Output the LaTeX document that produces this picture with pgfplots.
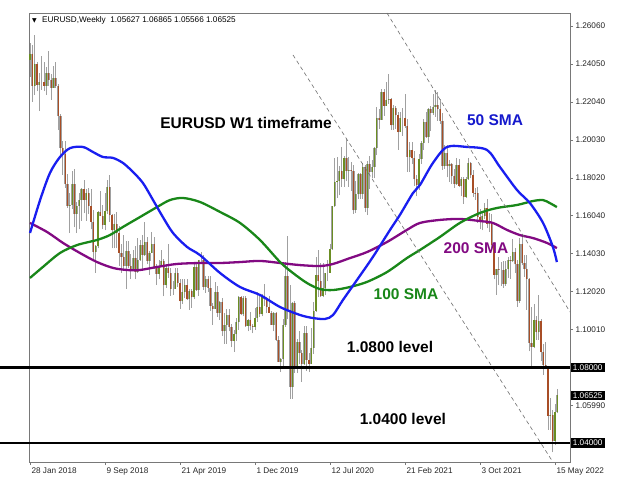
\documentclass[border=0pt]{standalone}
\usepackage{fontspec}
\setmainfont{Liberation Sans}
\newfontfamily\symfont{DejaVu Sans}
\usepackage{pgfplots}
\usepackage{pgfplotstable}
\pgfplotsset{compat=1.18}

\definecolor{bull}{RGB}{107,142,35}
\definecolor{bear}{RGB}{168,78,38}
\definecolor{wick}{RGB}{160,160,160}
\definecolor{smablue}{RGB}{25,30,240}
\definecolor{smagreen}{RGB}{25,135,25}
\definecolor{smapurple}{RGB}{130,10,130}
\definecolor{framegray}{RGB}{120,120,120}
\definecolor{dashgray}{RGB}{110,110,110}

\pgfplotstableread{
w O H L C
0 1.2425 1.2516 1.2335 1.2460
1 1.2460 1.2506 1.2206 1.2290
2 1.2290 1.2556 1.2240 1.2405
3 1.2405 1.2415 1.2260 1.2295
4 1.2295 1.2355 1.2155 1.2310
5 1.2310 1.2446 1.2270 1.2310
6 1.2310 1.2413 1.2260 1.2290
7 1.2290 1.2388 1.2240 1.2355
8 1.2355 1.2476 1.2290 1.2320
9 1.2320 1.2350 1.2215 1.2280
10 1.2280 1.2395 1.2280 1.2330
11 1.2330 1.2415 1.2280 1.2290
12 1.2290 1.2300 1.2055 1.2130
13 1.2130 1.2140 1.1910 1.1960
14 1.1960 1.1995 1.1820 1.1930
15 1.1930 1.1995 1.1750 1.1770
16 1.1770 1.1825 1.1645 1.1655
17 1.1655 1.1725 1.1510 1.1660
18 1.1660 1.1840 1.1640 1.1770
19 1.1770 1.1852 1.1540 1.1610
20 1.1610 1.1675 1.1510 1.1655
21 1.1655 1.1720 1.1530 1.1685
22 1.1685 1.1750 1.1575 1.1745
23 1.1745 1.1790 1.1615 1.1685
24 1.1685 1.1745 1.1575 1.1720
25 1.1720 1.1750 1.1610 1.1655
26 1.1655 1.1745 1.1530 1.1570
27 1.1570 1.1635 1.1365 1.1410
28 1.1410 1.1445 1.1300 1.1440
29 1.1440 1.1625 1.1430 1.1620
30 1.1620 1.1735 1.1600 1.1600
31 1.1600 1.1660 1.1530 1.1555
32 1.1555 1.1720 1.1525 1.1625
33 1.1625 1.1790 1.1610 1.1755
34 1.1755 1.1815 1.1570 1.1605
35 1.1605 1.1610 1.1430 1.1525
36 1.1525 1.1610 1.1430 1.1560
37 1.1560 1.1620 1.1430 1.1510
38 1.1510 1.1550 1.1335 1.1405
39 1.1405 1.1455 1.1300 1.1385
40 1.1385 1.1500 1.1315 1.1335
41 1.1335 1.1470 1.1215 1.1415
42 1.1415 1.1470 1.1325 1.1335
43 1.1335 1.1400 1.1265 1.1315
44 1.1315 1.1420 1.1310 1.1380
45 1.1380 1.1440 1.1265 1.1305
46 1.1305 1.1485 1.1300 1.1370
47 1.1370 1.1475 1.1365 1.1445
48 1.1445 1.1500 1.1310 1.1395
49 1.1395 1.1570 1.1390 1.1465
50 1.1465 1.1490 1.1345 1.1365
51 1.1365 1.1415 1.1290 1.1405
52 1.1405 1.1515 1.1405 1.1455
53 1.1455 1.1490 1.1320 1.1325
54 1.1325 1.1345 1.1235 1.1295
55 1.1295 1.1370 1.1265 1.1335
56 1.1335 1.1420 1.1335 1.1365
57 1.1365 1.1375 1.1175 1.1235
58 1.1235 1.1345 1.1220 1.1325
59 1.1325 1.1450 1.1275 1.1300
60 1.1300 1.1325 1.1180 1.1215
61 1.1215 1.1255 1.1185 1.1215
62 1.1215 1.1325 1.1215 1.1300
63 1.1300 1.1325 1.1225 1.1245
64 1.1245 1.1265 1.1110 1.1150
65 1.1150 1.1265 1.1135 1.1200
66 1.1200 1.1265 1.1165 1.1235
67 1.1235 1.1265 1.1155 1.1160
68 1.1160 1.1215 1.1105 1.1205
69 1.1205 1.1215 1.1115 1.1170
70 1.1170 1.1350 1.1160 1.1330
71 1.1330 1.1350 1.1205 1.1210
72 1.1210 1.1370 1.1180 1.1370
73 1.1370 1.1410 1.1355 1.1370
74 1.1370 1.1395 1.1210 1.1225
75 1.1225 1.1285 1.1195 1.1270
76 1.1270 1.1285 1.1200 1.1220
77 1.1220 1.1285 1.1100 1.1125
78 1.1125 1.1140 1.1025 1.1110
79 1.1110 1.1250 1.1110 1.1200
80 1.1200 1.1230 1.1065 1.1090
81 1.1090 1.1150 1.1050 1.1145
82 1.1145 1.1165 1.0965 1.0990
83 1.0990 1.1085 1.0925 1.1025
84 1.1025 1.1110 1.0925 1.1075
85 1.1075 1.1110 1.0990 1.1015
86 1.1015 1.1030 1.0905 1.0940
87 1.0940 1.1000 1.0880 1.0975
88 1.0975 1.1060 1.0940 1.1040
89 1.1040 1.1180 1.1000 1.1170
90 1.1170 1.1180 1.1075 1.1080
91 1.1080 1.1175 1.1070 1.1165
92 1.1165 1.1175 1.1015 1.1020
93 1.1020 1.1055 1.0990 1.1050
94 1.1050 1.1095 1.0995 1.1020
95 1.1020 1.1030 1.0980 1.1015
96 1.1015 1.1115 1.1000 1.1060
97 1.1060 1.1200 1.1040 1.1120
98 1.1120 1.1175 1.1065 1.1080
99 1.1080 1.1190 1.1070 1.1175
100 1.1175 1.1240 1.1125 1.1160
101 1.1160 1.1170 1.1085 1.1120
102 1.1120 1.1175 1.1090 1.1090
103 1.1090 1.1100 1.1025 1.1025
104 1.1025 1.1095 1.0990 1.1090
105 1.1090 1.1095 1.0940 1.0945
106 1.0945 1.0965 1.0827 1.0830
107 1.0830 1.0850 1.0775 1.0845
108 1.0845 1.1055 1.0800 1.1025
109 1.1025 1.1355 1.1015 1.1285
110 1.1285 1.1495 1.1055 1.1105
111 1.1105 1.1235 1.0635 1.0695
112 1.0695 1.1145 1.0635 1.1140
113 1.1140 1.1150 1.0770 1.0805
114 1.0805 1.0950 1.0770 1.0935
115 1.0935 1.0990 1.0815 1.0875
116 1.0875 1.0890 1.0725 1.0820
117 1.0820 1.1020 1.0810 1.0980
118 1.0980 1.1020 1.0780 1.0840
119 1.0840 1.0875 1.0775 1.0820
120 1.0820 1.1010 1.0815 1.0900
121 1.0900 1.1145 1.0870 1.1100
122 1.1100 1.1385 1.1095 1.1290
123 1.1290 1.1420 1.1170 1.1255
124 1.1255 1.1350 1.1170 1.1180
125 1.1180 1.1350 1.1170 1.1220
126 1.1220 1.1300 1.1185 1.1300
127 1.1300 1.1370 1.1255 1.1300
128 1.1300 1.1450 1.1300 1.1425
129 1.1425 1.1655 1.1420 1.1655
130 1.1655 1.1910 1.1650 1.1780
131 1.1780 1.1915 1.1695 1.1785
132 1.1785 1.1865 1.1710 1.1840
133 1.1840 1.1965 1.1755 1.1795
134 1.1795 1.1920 1.1755 1.1905
135 1.1905 1.2010 1.1785 1.1840
136 1.1840 1.1915 1.1755 1.1845
137 1.1845 1.1885 1.1735 1.1840
138 1.1840 1.1870 1.1610 1.1630
139 1.1630 1.1785 1.1615 1.1715
140 1.1715 1.1830 1.1690 1.1825
141 1.1825 1.1830 1.1690 1.1715
142 1.1715 1.1880 1.1690 1.1860
143 1.1860 1.1870 1.1620 1.1645
144 1.1645 1.1890 1.1605 1.1875
145 1.1875 1.1920 1.1745 1.1835
146 1.1835 1.1895 1.1800 1.1860
147 1.1860 1.1965 1.1800 1.1960
148 1.1960 1.2175 1.1925 1.2120
149 1.2120 1.2165 1.2060 1.2110
150 1.2110 1.2275 1.2110 1.2255
151 1.2255 1.2275 1.2130 1.2185
152 1.2185 1.2310 1.2185 1.2215
153 1.2215 1.2350 1.2195 1.2220
154 1.2220 1.2225 1.2055 1.2080
155 1.2080 1.2190 1.2055 1.2170
156 1.2170 1.2185 1.2060 1.2135
157 1.2135 1.2150 1.1950 1.2045
158 1.2045 1.2150 1.2045 1.2120
159 1.2120 1.2170 1.2025 1.2120
160 1.2120 1.2245 1.2065 1.2075
161 1.2075 1.2115 1.1835 1.1915
162 1.1915 1.1990 1.1835 1.1950
163 1.1950 1.1990 1.1875 1.1905
164 1.1905 1.1945 1.1760 1.1795
165 1.1795 1.1815 1.1705 1.1765
166 1.1765 1.1930 1.1740 1.1900
167 1.1900 1.1995 1.1875 1.1985
168 1.1985 1.2115 1.1950 1.2100
169 1.2100 1.2150 1.2015 1.2020
170 1.2020 1.2170 1.1985 1.2165
171 1.2165 1.2185 1.2050 1.2145
172 1.2145 1.2245 1.2135 1.2180
173 1.2180 1.2265 1.2125 1.2190
174 1.2190 1.2255 1.2105 1.2165
175 1.2165 1.2220 1.2090 1.2105
176 1.2105 1.2145 1.1845 1.1865
177 1.1865 1.1975 1.1850 1.1935
178 1.1935 1.1975 1.1805 1.1865
179 1.1865 1.1895 1.1780 1.1875
180 1.1875 1.1880 1.1770 1.1810
181 1.1810 1.1850 1.1750 1.1770
182 1.1770 1.1910 1.1765 1.1870
183 1.1870 1.1900 1.1755 1.1760
184 1.1760 1.1805 1.1705 1.1795
185 1.1795 1.1805 1.1665 1.1700
186 1.1700 1.1805 1.1695 1.1795
187 1.1795 1.1910 1.1790 1.1880
188 1.1880 1.1885 1.1800 1.1815
189 1.1815 1.1845 1.1700 1.1725
190 1.1725 1.1750 1.1685 1.1720
191 1.1720 1.1755 1.1565 1.1595
192 1.1595 1.1640 1.1530 1.1570
193 1.1570 1.1625 1.1525 1.1600
194 1.1600 1.1670 1.1585 1.1645
195 1.1645 1.1690 1.1535 1.1560
196 1.1560 1.1615 1.1515 1.1565
197 1.1565 1.1610 1.1430 1.1445
198 1.1445 1.1465 1.1265 1.1290
199 1.1290 1.1320 1.1185 1.1320
200 1.1320 1.1385 1.1235 1.1315
201 1.1315 1.1355 1.1230 1.1315
202 1.1315 1.1360 1.1220 1.1240
203 1.1240 1.1360 1.1230 1.1320
204 1.1320 1.1385 1.1275 1.1370
205 1.1370 1.1390 1.1270 1.1360
206 1.1360 1.1480 1.1355 1.1410
207 1.1410 1.1430 1.1300 1.1345
208 1.1345 1.1370 1.1120 1.1150
209 1.1150 1.1485 1.1140 1.1455
210 1.1455 1.1495 1.1340 1.1350
211 1.1350 1.1395 1.1280 1.1320
212 1.1320 1.1395 1.1105 1.1270
213 1.1270 1.1275 1.0885 1.0930
214 1.0930 1.1120 1.0805 1.0910
215 1.0910 1.1135 1.0900 1.1050
216 1.1050 1.1070 1.0945 1.0985
217 1.0985 1.1185 1.0945 1.1045
218 1.1045 1.1055 1.0835 1.0880
219 1.0880 1.0925 1.0760 1.0810
220 1.0810 1.0935 1.0790 1.0795
221 1.0795 1.0805 1.0470 1.0545
222 1.0545 1.0640 1.0470 1.0550
223 1.0550 1.0575 1.0350 1.0410
224 1.0410 1.0607 1.0389 1.0562
225 1.05627 1.06865 1.05566 1.06525
}\ohlc

\pgfplotsset{candle/.style={draw=none, no markers, forget plot,
  error bars/y dir=plus, error bars/y explicit, error bars/error mark=none}}

\begin{document}
\begin{tikzpicture}
\begin{axis}[
  at={(29bp,18bp)}, anchor=south west,
  scale only axis, width=541bp, height=449bp,
  xmin=-0.43, xmax=230.4, ymin=1.02991, ymax=1.26748,
  clip=false,
  axis line style={framegray, line width=0.8bp},
  xtick={0,32,64,96,128,160,192,224},
  xticklabels={28 Jan 2018, 9 Sep 2018, 21 Apr 2019, 1 Dec 2019, 12 Jul 2020, 21 Feb 2021, 3 Oct 2021, 15 May 2022},
  xtick pos=bottom, ytick pos=right, tick align=outside,
  major tick length=3bp,
  tick style={framegray, line width=0.6bp},
  xticklabel style={anchor=north west, xshift=-2bp, yshift=1bp, font=\fontsize{8.2bp}{9bp}\selectfont, text=black!85},
  ytick={1.2606,1.2405,1.2204,1.2003,1.1802,1.1604,1.1403,1.1202,1.1001,1.08,1.0599,1.04},
  yticklabels={1.26060,1.24050,1.22040,1.20030,1.18020,1.16040,1.14030,1.12020,1.10010,,1.05990,},
  yticklabel style={anchor=west, xshift=-1bp, font=\fontsize{8.2bp}{9bp}\selectfont, text=black!85},
]
% wicks
\addplot[candle, error bars/error bar style={draw=wick, line width=0.8bp}]
  table[x=w, y=L, y error plus expr=\thisrow{H}-\thisrow{L}] {\ohlc};
% bullish bodies
\addplot[candle, restrict expr to domain={\thisrow{C}-\thisrow{O}}{0:1},
  error bars/error bar style={draw=wick, line width=2.2bp}]
  table[x=w, y=O, y error plus expr=\thisrow{C}-\thisrow{O}] {\ohlc};
\addplot[candle, restrict expr to domain={\thisrow{C}-\thisrow{O}}{0:1},
  error bars/error bar style={draw=bull, line width=1.2bp}]
  table[x=w, y=O, y error plus expr=\thisrow{C}-\thisrow{O}] {\ohlc};
% bearish bodies
\addplot[candle, restrict expr to domain={\thisrow{O}-\thisrow{C}}{0:1},
  error bars/error bar style={draw=wick, line width=2.2bp}]
  table[x=w, y=C, y error plus expr=\thisrow{O}-\thisrow{C}] {\ohlc};
\addplot[candle, restrict expr to domain={\thisrow{O}-\thisrow{C}}{0:1},
  error bars/error bar style={draw=bear, line width=1.2bp}]
  table[x=w, y=C, y error plus expr=\thisrow{O}-\thisrow{C}] {\ohlc};

% 200 SMA
\addplot[smapurple, line width=2.3bp, smooth] coordinates {
(0,1.1564) (7.3,1.1516) (14.1,1.1458) (21.3,1.1405) (28.6,1.1357) (35.4,1.1326)
(41.4,1.1315) (46.9,1.1315) (54.2,1.1331) (62.7,1.1347) (72.5,1.1352) (81.1,1.1352)
(89.6,1.1357) (98.1,1.1363) (106.7,1.1352) (115.2,1.1341) (123.7,1.1336) (129.3,1.1347)
(136.5,1.1378) (143.8,1.1410) (152.3,1.1463) (160.8,1.1527) (166.4,1.1564) (174.9,1.1580)
(183.4,1.1585) (192.0,1.1574) (197.5,1.1564) (203.5,1.1527) (209.0,1.1500) (214.6,1.1484)
(220.6,1.1458) (224.8,1.1431)};
% 100 SMA
\addplot[smagreen, line width=2.3bp, smooth] coordinates {
(0,1.1273) (5.5,1.1331) (12.8,1.1405) (20.1,1.1447) (28.6,1.1474) (34.1,1.1500)
(39.7,1.1543) (46.9,1.1595) (54.2,1.1648) (59.7,1.1685) (65.3,1.1696) (72.5,1.1675)
(81.1,1.1622) (89.6,1.1564) (98.1,1.1474) (106.7,1.1357) (112.2,1.1299) (118.2,1.1246)
(123.7,1.1214) (129.3,1.1209) (136.5,1.1225) (143.8,1.1252) (152.3,1.1304) (160.8,1.1378)
(166.4,1.1421) (174.9,1.1490) (183.4,1.1564) (192.0,1.1617) (199.2,1.1643) (207.8,1.1659)
(214.6,1.1680) (218.9,1.1685) (221.8,1.1669) (224.8,1.1648)};
% 50 SMA
\addplot[smablue, line width=2.3bp, smooth] coordinates {
(0,1.1511) (4.3,1.1685) (8.5,1.1828) (12.8,1.1913) (17.1,1.1960) (22.6,1.1966)
(26.9,1.1939) (31.1,1.1913) (35.4,1.1908) (39.7,1.1881) (43.9,1.1834) (48.2,1.1775)
(52.5,1.1685) (56.7,1.1595) (61.0,1.1511) (67.0,1.1437) (72.5,1.1394) (81.1,1.1299)
(89.6,1.1225) (98.1,1.1183) (106.7,1.1119) (115.2,1.1077) (120.7,1.1061) (125.9,1.1056)
(129.3,1.1077) (133.5,1.1156) (139.5,1.1262) (146.3,1.1384) (153.6,1.1527) (157.8,1.1606)
(163.4,1.1722) (166.4,1.1765) (171.9,1.1881) (177.9,1.1966) (186.4,1.1966) (195.0,1.1950)
(200.5,1.1860) (207.8,1.1738) (213.3,1.1669) (218.9,1.1564) (223.1,1.1437) (224.8,1.1357)};

% channel lines
\addplot[dashgray, line width=0.6bp, dash pattern=on 4bp off 3bp] coordinates {(112.2,1.2453) (223.1,1.0299)};
\addplot[dashgray, line width=0.6bp, dash pattern=on 4bp off 3bp] coordinates {(152.3,1.2675) (230.4,1.1093)};

% levels
\addplot[black, line width=2.8bp] coordinates {(-12.8,1.08) (230.4,1.08)};
\addplot[black, line width=2.8bp] coordinates {(-12.8,1.04) (230.4,1.04)};

% annotations
\node[font=\fontsize{15.5bp}{18bp}\selectfont\bfseries] at (axis cs:92.2,1.2093) {EURUSD W1 timeframe};
\node[font=\fontsize{15.5bp}{18bp}\selectfont\bfseries, text=smablue!85!black] at (axis cs:198.4,1.2109) {50 SMA};
\node[font=\fontsize{15.5bp}{18bp}\selectfont\bfseries, text=smapurple] at (axis cs:190.3,1.1431) {200 SMA};
\node[font=\fontsize{15.5bp}{18bp}\selectfont\bfseries, text=smagreen] at (axis cs:160.4,1.1188) {100 SMA};
\node[font=\fontsize{15.5bp}{18bp}\selectfont\bfseries] at (axis cs:153.6,1.0908) {1.0800 level};
\node[font=\fontsize{15.5bp}{18bp}\selectfont\bfseries] at (axis cs:159.1,1.0527) {1.0400 level};

% price boxes
\node[fill=black, text=white, anchor=west, inner xsep=2.2bp, inner ysep=1.8bp, xshift=0.5bp,
  font=\fontsize{8.2bp}{9bp}\selectfont] at (axis cs:230.4,1.08) {1.08000};
\node[fill=black, text=white, anchor=west, inner xsep=2.2bp, inner ysep=1.8bp, xshift=0.5bp,
  font=\fontsize{8.2bp}{9bp}\selectfont] at (axis cs:230.4,1.06525) {1.06525};
\node[fill=black, text=white, anchor=west, inner xsep=2.2bp, inner ysep=1.8bp, xshift=0.5bp,
  font=\fontsize{8.2bp}{9bp}\selectfont] at (axis cs:230.4,1.04) {1.04000};
\end{axis}
% header
\node[anchor=west, inner sep=0pt, font=\symfont\fontsize{6bp}{7bp}\selectfont] at (32bp,459.5bp) {▼};
\node[anchor=west, inner sep=0pt, font=\fontsize{8.2bp}{9bp}\selectfont] at (42bp,459.5bp) {EURUSD,Weekly\ \ 1.05627 1.06865 1.05566 1.06525};
\pgfresetboundingbox
\path (0,0) rectangle (640bp,480bp);
\end{tikzpicture}
\end{document}
